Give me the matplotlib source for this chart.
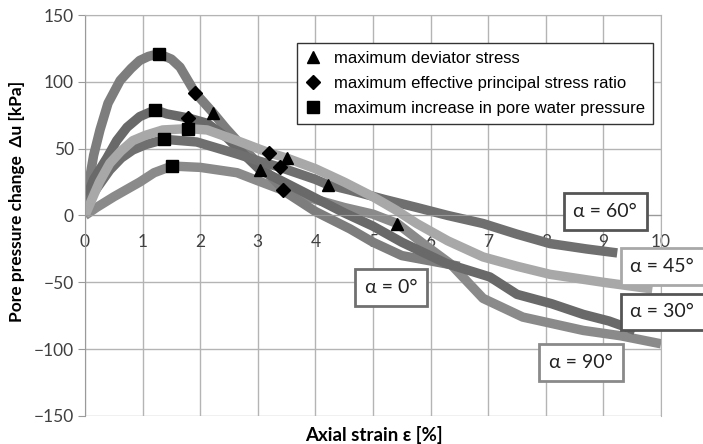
import matplotlib
matplotlib.use("Agg")
import matplotlib.pyplot as plt
from matplotlib.lines import Line2D

# ---- data ----
x_a0 = [0, 0.05, 0.15, 0.26, 0.4, 0.61, 0.8, 0.95, 1.1, 1.28, 1.5, 1.65, 1.91, 2.22, 2.45, 2.64, 2.8, 3.1, 3.5, 4.0, 4.6, 5.0, 5.5, 6.0, 6.5]
y_a0 = [0, 20, 45, 64, 84, 101, 110, 116, 119, 121, 117, 111, 92, 77, 65, 56, 48, 35, 17, 3, -10, -20, -30, -34, -38]

x_a30 = [0, 0.03, 0.15, 0.38, 0.55, 0.73, 0.95, 1.22, 1.42, 1.79, 2.12, 2.47, 2.8, 3.04, 3.5, 4.0, 4.5, 5.0, 5.5, 6.28, 7.03, 7.5, 8.1, 8.65, 9.1, 9.55]
y_a30 = [0, 14, 27, 43, 56, 66, 74, 79, 76, 73, 69, 58, 44, 34, 24, 13, 2, -8, -20, -36, -46, -59, -66, -74, -79, -86]

x_a45 = [0, 0.09, 0.25, 0.43, 0.62, 0.83, 1.05, 1.35, 1.79, 2.12, 2.64, 3.19, 3.5, 4.0, 4.5, 5.0, 5.4, 5.76, 6.3, 6.91, 7.5, 8.07, 9.0, 9.85]
y_a45 = [0, 9, 25, 39, 48, 56, 60, 64, 65, 64, 56, 47, 43, 35, 25, 14, 4, -6, -19, -31, -38, -44, -50, -55]

x_a60 = [0, 0.03, 0.2, 0.43, 0.63, 0.83, 1.05, 1.38, 1.94, 2.64, 3.0, 3.39, 4.0, 4.22, 4.6, 5.2, 5.76, 6.3, 6.91, 7.5, 8.07, 8.7, 9.24]
y_a60 = [0, 9, 20, 34, 43, 49, 53, 57, 55, 46, 41, 36, 27, 23, 19, 12, 6, 0, -6, -14, -21, -25, -28]

x_a90 = [0, 0.2, 0.5, 0.95, 1.2, 1.51, 2.0, 2.64, 3.0, 3.43, 4.0, 4.5, 5.0, 5.42, 5.9, 6.34, 6.91, 7.6, 8.65, 9.3, 10.0]
y_a90 = [0, 6, 14, 25, 32, 37, 36, 32, 26, 19, 12, 6, 1, -6, -22, -36, -62, -76, -86, -90, -96]

tri_x = [2.22, 3.04, 3.5, 4.22, 5.42]
tri_y = [77, 34, 43, 23, -6]
dia_x = [1.91, 1.79, 3.19, 3.39, 3.43]
dia_y = [92, 73, 47, 36, 19]
sq_x = [1.28, 1.22, 1.79, 1.38, 1.51]
sq_y = [121, 79, 65, 57, 37]

legend_labels = ["maximum deviator stress",
                 "maximum effective principal stress ratio",
                 "maximum increase in pore water pressure"]

box_labels = ["α = 0°", "α = 30°", "α = 45°", "α = 60°", "α = 90°"]
box_x = [5.31, 10.02, 10.02, 9.03, 8.61]
box_y = [-54, -72, -38, 3, -110]
box_edge = ["#707070", "#555555", "#a8a8a8", "#555555", "#8a8a8a"]

x_ticks = list(range(0, 11))
y_ticks = [-150, -100, -50, 0, 50, 100, 150]

# ---- figure ----
fig = plt.figure(figsize=(7.03, 4.44), dpi=100)
ax = fig.add_axes([0.1209, 0.0631, 0.8194, 0.9031])
ax.set_xlim(0, 10)
ax.set_ylim(-150, 150)

grid_c = "#b4b4b4"
ax.set_xticks(x_ticks)
ax.set_yticks(y_ticks)
ax.grid(True, color=grid_c, lw=1.0, zorder=0)
for s in ["top", "right"]:
    ax.spines[s].set_color(grid_c)
ax.spines["left"].set_color("#9a9a9a")
ax.spines["bottom"].set_position(("data", 0))
ax.spines["bottom"].set_color("#9a9a9a")

tick_font = ["Lato", "DejaVu Sans"]
ax.tick_params(axis="y", direction="out", length=5, color="#9a9a9a", labelsize=12.5,
               labelcolor="#404040", pad=3)
ax.tick_params(axis="x", length=0, labelsize=12.5, labelcolor="#404040", pad=13)
for lab in ax.get_xticklabels() + ax.get_yticklabels():
    lab.set_family(tick_font)

lw = 6.8
ax.plot(x_a90, y_a90, color="#8a8a8a", lw=lw, solid_capstyle="butt", zorder=2)
ax.plot(x_a0, y_a0, color="#7d7d7d", lw=lw, solid_capstyle="butt", zorder=2)
ax.plot(x_a30, y_a30, color="#696969", lw=lw, solid_capstyle="butt", zorder=2)
ax.plot(x_a60, y_a60, color="#6f6f6f", lw=lw, solid_capstyle="butt", zorder=2)
ax.plot(x_a45, y_a45, color="#a8a8a8", lw=lw, solid_capstyle="butt", zorder=2)

ax.plot(tri_x, tri_y, linestyle="none", marker="^", color="black", ms=9, zorder=5)
ax.plot(dia_x, dia_y, linestyle="none", marker="D", color="black", ms=7, zorder=5)
ax.plot(sq_x, sq_y, linestyle="none", marker="s", color="black", ms=9, zorder=5)

handles = [Line2D([], [], linestyle="none", marker="^", color="black", ms=9),
           Line2D([], [], linestyle="none", marker="D", color="black", ms=7),
           Line2D([], [], linestyle="none", marker="s", color="black", ms=8)]
leg = ax.legend(handles, legend_labels, loc="upper left", bbox_to_anchor=(0.368, 0.930),
                borderaxespad=0, frameon=True, fancybox=False, framealpha=1,
                edgecolor="#333333", prop={"family": "Liberation Sans", "size": 12},
                labelspacing=0.62, handlelength=1.0, handletextpad=0.8,
                borderpad=0.45)
leg.get_frame().set_linewidth(1.0)
leg.set_zorder(6)

for lab, bx, by, ec in zip(box_labels, box_x, box_y, box_edge):
    ax.text(bx, by, lab, ha="center", va="center", fontsize=14, family=tick_font,
            color="#222222", zorder=7, clip_on=False,
            bbox=dict(boxstyle="square,pad=0.5", fc="white", ec=ec, lw=2.0))

ax.set_xlabel("Axial strain ε [%]", fontsize=13.5, fontweight="bold", family=tick_font,
              labelpad=0)
ax.xaxis.set_label_coords(0.502, -0.025)
ax.set_ylabel("Pore pressure change  Δu [kPa]", fontsize=12.5, fontweight="bold",
              family=tick_font)
ax.yaxis.set_label_coords(-0.105, 0.536)

fig.savefig("out.png", dpi=100)
